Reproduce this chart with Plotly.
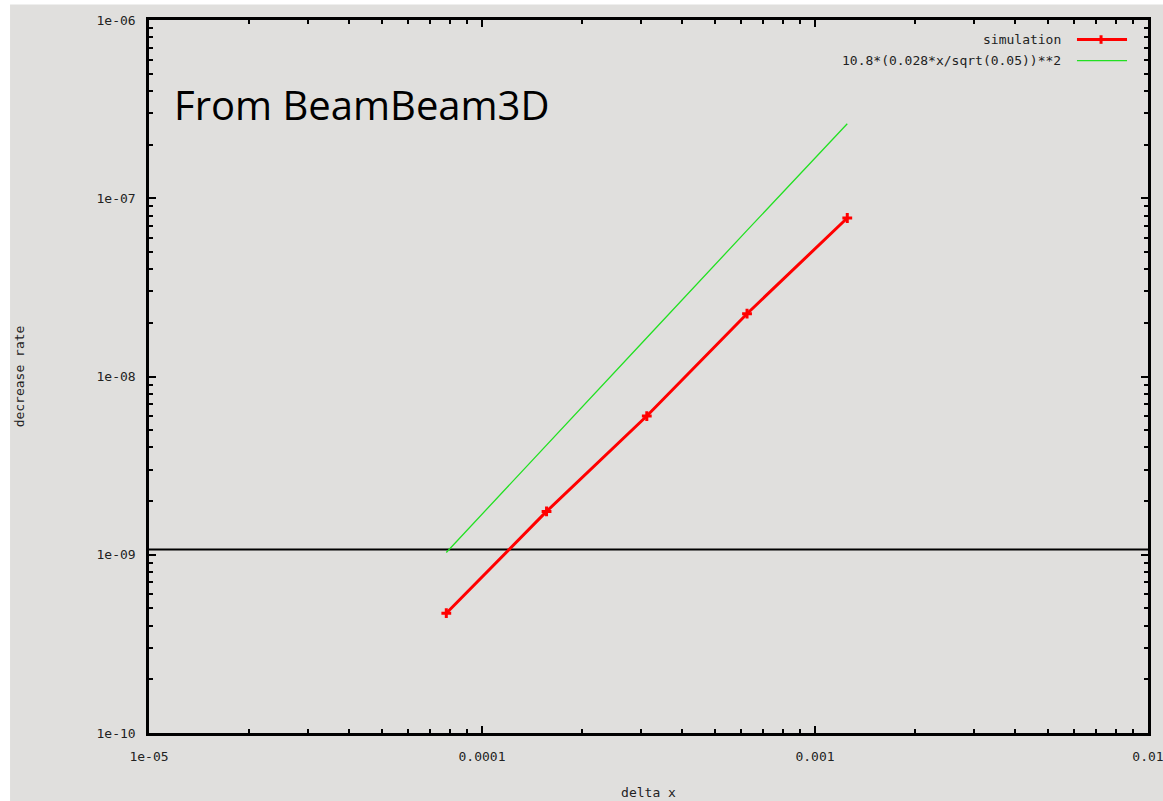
import plotly.graph_objects as go

# ---- data ----
delta_x = [7.8125e-5, 1.5625e-4, 3.125e-4, 6.25e-4, 1.25e-3]
sim_rate = [4.7e-10, 1.75e-9, 6.0e-9, 2.25e-8, 7.75e-8]
fit_rate = [1.03e-9, 4.1e-9, 1.65e-8, 6.6e-8, 2.62e-7]
thresh_x = [1e-5, 1e-2]
thresh_y = [1.07e-9, 1.07e-9]

x_tickvals = [1e-5, 1e-4, 1e-3, 1e-2]
x_ticktext = ["1e-05", "0.0001", "0.001", "0.01"]
y_tickvals = [1e-10, 1e-9, 1e-8, 1e-7, 1e-6]
y_ticktext = ["1e-10", "1e-09", "1e-08", "1e-07", "1e-06"]

legend_labels = ["simulation", "10.8*(0.028*x/sqrt(0.05))**2"]

BG = "#e0dfdd"
MONO = "DejaVu Sans Mono"

fig = go.Figure()
fig.add_trace(go.Scatter(x=thresh_x, y=thresh_y, mode="lines",
                         line=dict(color="black", width=2), showlegend=False, hoverinfo="skip"))
fig.add_trace(go.Scatter(x=delta_x, y=fit_rate, mode="lines",
                         line=dict(color="#22e022", width=1.3), name=legend_labels[1], showlegend=False))
fig.add_trace(go.Scatter(x=delta_x, y=sim_rate, mode="lines+markers",
                         line=dict(color="#ff0000", width=3),
                         marker=dict(symbol="cross-thin", size=7, color="#ff0000",
                                     line=dict(color="#ff0000", width=3)),
                         name=legend_labels[0], showlegend=False))

axis_common = dict(
    type="log", showgrid=False, zeroline=False,
    showline=True, linecolor="black", linewidth=2.5, mirror="ticks",
    ticks="inside", ticklen=7, tickwidth=2, tickcolor="black",
    minor=dict(ticks="inside", ticklen=4, tickwidth=2, tickcolor="black", dtick="D1", showgrid=False),
    tickfont=dict(family=MONO, size=13, color="#222222"),
    title_font=dict(family=MONO, size=13, color="#222222"),
    ticklabeloverflow="allow",
    automargin=False,
)

fig.update_xaxes(**axis_common, range=[-5, -2], tickmode="array",
                 tickvals=x_tickvals, ticktext=x_ticktext,
                 title_text="delta x", title_standoff=25, ticklabelstandoff=10)
fig.update_yaxes(**axis_common, range=[-10, -6], tickmode="array",
                 tickvals=y_tickvals, ticktext=y_ticktext,
                 title_text="decrease rate", title_standoff=69, ticklabelstandoff=8)

# outer gray panel (screenshot has thin white strip at top and left)
fig.add_shape(type="rect", xref="paper", yref="paper", layer="below",
              x0=-0.1391, x1=1.02, y0=-0.1, y1=1.0218,
              fillcolor=BG, line=dict(width=0))

# gnuplot-style key (text then sample on the right)
key_y = [0.9726, 0.9431]
fig.add_annotation(xref="paper", yref="paper", x=0.9149, y=key_y[0], text=legend_labels[0],
                   showarrow=False, xanchor="right", yanchor="middle",
                   font=dict(family=MONO, size=13, color="#222222"))
fig.add_annotation(xref="paper", yref="paper", x=0.9149, y=key_y[1], text=legend_labels[1],
                   showarrow=False, xanchor="right", yanchor="middle",
                   font=dict(family=MONO, size=13, color="#222222"))
fig.add_shape(type="line", xref="paper", yref="paper", x0=0.9289, x1=0.979,
              y0=key_y[0], y1=key_y[0], line=dict(color="#ff0000", width=3))
fig.add_shape(type="line", xref="paper", yref="paper", x0=0.953, x1=0.953,
              y0=key_y[0] - 0.006, y1=key_y[0] + 0.006, line=dict(color="#ff0000", width=3))
fig.add_shape(type="line", xref="paper", yref="paper", x0=0.9289, x1=0.979,
              y0=key_y[1], y1=key_y[1], line=dict(color="#22e022", width=1.3))

fig.add_annotation(xref="paper", yref="paper", x=0.023, y=0.882, text="From BeamBeam3D",
                   showarrow=False, xanchor="left", yanchor="middle",
                   font=dict(family="Open Sans", size=40, color="black"))

fig.update_layout(
    width=1163, height=801,
    margin=dict(l=149, r=15, t=20, b=68),
    paper_bgcolor="white", plot_bgcolor=BG,
    showlegend=False,
)

fig.write_html("out.html")
